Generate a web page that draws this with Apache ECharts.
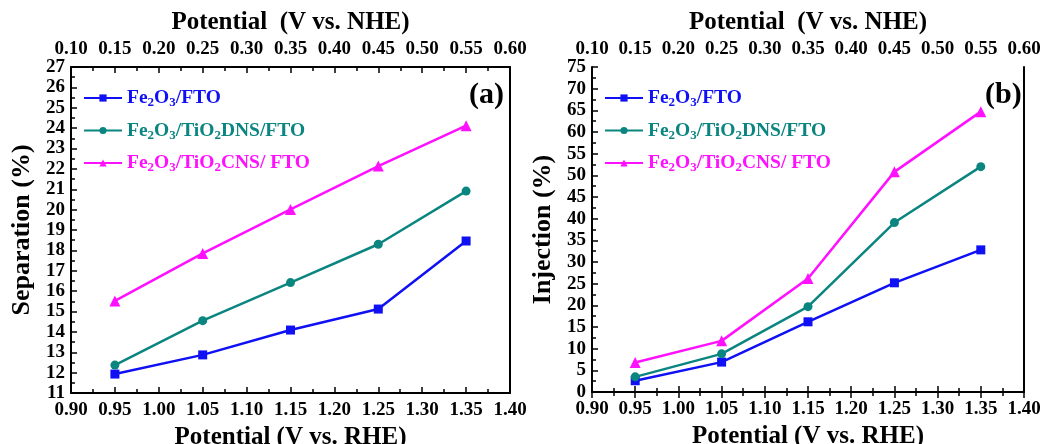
<!DOCTYPE html>
<html>
<head>
<meta charset="utf-8">
<script src="https://cdn.jsdelivr.net/npm/echarts@6/dist/echarts.min.js"></script>
<style>
  html, body { margin: 0; padding: 0; background: #fff; }
  #chart { width: 1047px; height: 444px; }
</style>
</head>
<body>
<div id="chart"></div>
<script>
// data
const potRHE = [0.95, 1.05, 1.15, 1.25, 1.35];
const seriesNames = ['Fe2O3/FTO', 'Fe2O3/TiO2DNS/FTO', 'Fe2O3/TiO2CNS/ FTO'];

const sepFTO = [11.93, 12.87, 14.09, 15.12, 18.46];
const sepDNS = [12.37, 14.55, 16.42, 18.30, 20.91];
const sepCNS = [15.52, 17.85, 20.01, 22.14, 24.12];

const injFTO = [2.6, 6.9, 16.2, 25.2, 32.8];
const injDNS = [3.5, 8.8, 19.7, 39.1, 52.0];
const injCNS = [6.8, 11.8, 26.2, 50.8, 64.7];

const colors = ['#1010f5', '#0a8580', '#ff10ff'];
const symbols = ['rect', 'circle', 'triangle'];
const symSizes = [9, 9, 11];

const font = 'Liberation Serif';

const pair = (ys) => potRHE.map((x, i) => [x, ys[i]]);

function makeSeries(sets, gi) {
  return sets.map((ys, k) => ({
    name: seriesNames[k],
    type: 'line',
    xAxisIndex: gi * 2,
    yAxisIndex: gi * 2,
    data: pair(ys),
    symbol: symbols[k],
    symbolSize: symSizes[k],
    lineStyle: { color: colors[k], width: 2.5 },
    itemStyle: { color: colors[k] },
    color: colors[k],
    animation: false
  }));
}

const axLine = { show: true, lineStyle: { color: '#000', width: 2 } };
const tickIn = { show: true, inside: true, length: 6, lineStyle: { color: '#000', width: 1.5 } };
const minorIn = { show: true, splitNumber: 2, length: 4, lineStyle: { color: '#000', width: 1.5 } };
const lab = { color: '#000', fontFamily: font, fontWeight: 'bold', fontSize: 19 };
const nameStyle = { color: '#000', fontFamily: font, fontWeight: 'bold', fontSize: 25 };

function xAxes(gi) {
  return [
    {
      gridIndex: gi, type: 'value', position: 'bottom',
      min: 0.9, max: 1.4, interval: 0.05,
      name: 'Potential (V vs. RHE)', nameLocation: 'middle', nameGap: 31,
      nameTextStyle: nameStyle,
      axisLine: axLine, axisTick: tickIn, minorTick: minorIn,
      axisLabel: Object.assign({ margin: 8, formatter: v => v.toFixed(2) }, lab),
      splitLine: { show: false }
    },
    {
      gridIndex: gi, type: 'value', position: 'top',
      min: 0.1, max: 0.6, interval: 0.05,
      name: 'Potential  (V vs. NHE)', nameLocation: 'middle', nameGap: 29,
      nameTextStyle: nameStyle,
      axisLine: axLine, axisTick: tickIn, minorTick: minorIn,
      axisLabel: Object.assign({ margin: 8, formatter: v => v.toFixed(2) }, lab),
      splitLine: { show: false }
    }
  ];
}

function yAxes(gi, min, max, interval, title) {
  return [
    {
      gridIndex: gi, type: 'value', position: 'left',
      min: min, max: max, interval: interval,
      name: title, nameLocation: 'middle', nameGap: 36,
      nameTextStyle: Object.assign({}, nameStyle, { fontSize: 26 }),
      axisLine: axLine, axisTick: tickIn, minorTick: minorIn,
      axisLabel: Object.assign({ margin: 6, showMinLabel: true, showMaxLabel: true }, lab),
      splitLine: { show: false }
    },
    {
      gridIndex: gi, type: 'value', position: 'right',
      min: min, max: max, interval: interval,
      axisLine: axLine, axisTick: { show: false }, axisLabel: { show: false },
      splitLine: { show: false }
    }
  ];
}

const rich = {};
colors.forEach((c, k) => {
  rich['n' + k] = { color: c, fontFamily: font, fontWeight: 'bold', fontSize: 19.5 };
  rich['s' + k] = { color: c, fontFamily: font, fontWeight: 'bold', fontSize: 13, padding: [10, 0, 0, 0] };
});

function legendLabel(name) {
  const k = seriesNames.indexOf(name);
  const parts = name.split(/(\d)/);
  return parts.filter(p => p !== '').map(p => /^\d$/.test(p) ? '{s' + k + '|' + p + '}' : '{n' + k + '|' + p + '}').join('');
}

function legend(left) {
  return {
    left: left, top: 83, orient: 'vertical', itemGap: 11,
    itemWidth: 38, itemHeight: 9,
    data: seriesNames,
    formatter: legendLabel,
    textStyle: { rich: rich },
    selectedMode: false
  };
}

const chart = echarts.init(document.getElementById('chart'), null, { renderer: 'canvas' });
chart.setOption({
  backgroundColor: '#fff',
  animation: false,
  grid: [
    { left: 71, right: 537, top: 67, bottom: 51, outerBoundsMode: 'none' },
    { left: 592, right: 23, top: 67, bottom: 52, outerBoundsMode: 'none' }
  ],
  xAxis: xAxes(0).concat(xAxes(1)),
  yAxis: yAxes(0, 11, 27, 1, 'Separation (%)').concat(yAxes(1, 0, 75, 5, 'Injection (%)')),
  legend: [legend(78), legend(599)],
  graphic: [
    { type: 'text', left: 469, top: 80, style: { text: '(a)', fill: '#000', font: 'bold 30px "Liberation Serif"' } },
    { type: 'text', left: 985, top: 80, style: { text: '(b)', fill: '#000', font: 'bold 30px "Liberation Serif"' } }
  ],
  series: makeSeries([sepFTO, sepDNS, sepCNS], 0).concat(makeSeries([injFTO, injDNS, injCNS], 1))
});
</script>
</body>
</html>
